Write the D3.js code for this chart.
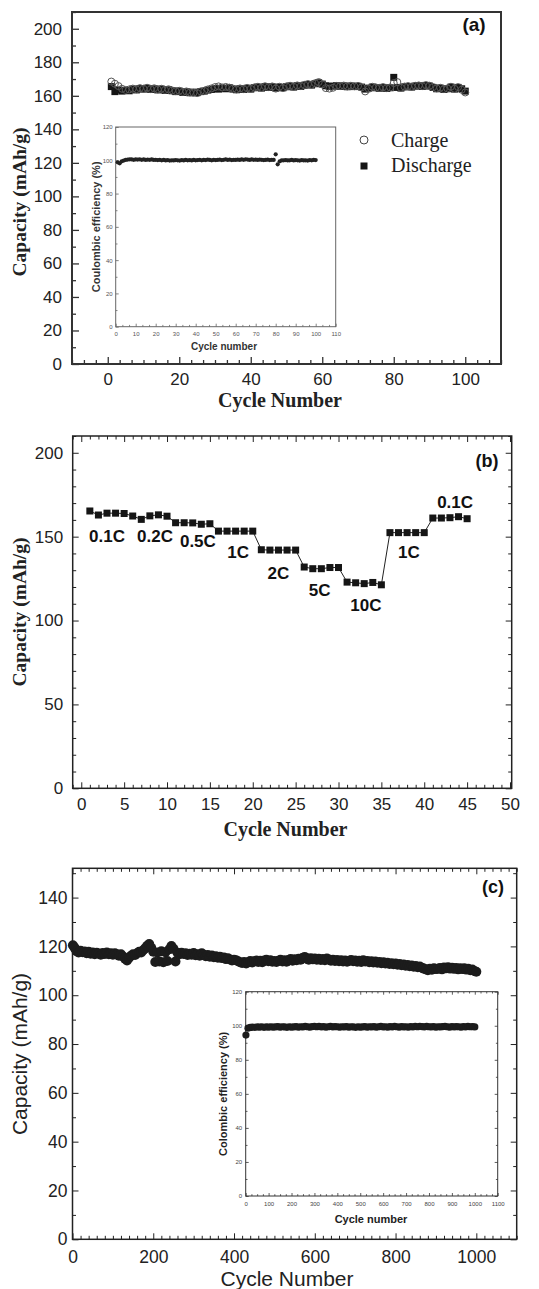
<!DOCTYPE html>
<html><head><meta charset="utf-8">
<script src="https://cdn.jsdelivr.net/npm/d3@7"></script>
<style>body{margin:0;background:#fff}svg{display:block}</style>
</head><body>
<svg id="chart" width="539" height="1289"></svg>
<script>
// ---------------- DATA ----------------
// Panel (a): capacity vs cycle (1..100)
const aCharge = [
 168.5,167.2,165.8,164.2,163.5,163.8,164.3,163.9,164.6,164.2,
 164.8,164.0,164.5,163.8,164.2,163.5,163.9,163.2,162.8,163.0,
 162.3,162.6,162.0,161.8,161.6,162.6,163.0,163.8,164.4,165.2,
 165.6,165.0,165.3,164.9,164.3,163.8,164.4,164.0,164.7,164.2,
 165.0,165.4,164.8,165.7,165.2,165.6,164.3,165.4,164.6,165.6,
 166.0,165.4,166.2,165.8,166.5,167.0,166.6,167.5,168.2,166.8,
 164.6,164.3,164.8,165.9,165.8,166.1,165.6,166.0,165.7,165.9,
 165.0,162.6,164.2,165.4,165.0,164.7,165.2,164.6,165.0,167.6,
 168.2,164.8,165.5,165.8,165.4,166.0,166.2,165.8,166.4,166.0,
 165.2,164.4,164.8,164.0,164.4,165.4,164.2,165.2,163.6,162.0];
const aDischarge = [
 165.5,162.5,163.5,162.8,163.2,163.0,164.0,163.5,164.3,164.0,
 164.5,163.8,164.2,163.5,164.0,163.2,163.6,163.0,162.5,162.8,
 162.0,162.4,161.8,162.2,161.9,162.5,162.8,163.4,163.8,164.3,
 164.0,164.6,164.2,164.8,164.0,163.6,164.2,163.8,164.5,164.0,
 164.8,165.2,164.6,165.5,165.0,165.4,164.6,165.2,164.8,165.4,
 165.8,165.2,166.0,165.6,166.3,166.8,166.4,167.2,167.8,167.0,
 166.0,165.6,165.8,166.0,165.6,165.9,165.4,165.8,165.5,165.7,
 165.2,164.0,164.6,165.2,164.8,164.5,165.0,164.4,164.8,171.0,
 165.0,164.6,165.3,165.6,165.2,165.8,166.0,165.6,166.2,165.8,
 165.0,164.2,164.6,163.8,164.2,165.2,164.0,165.0,164.2,162.8];
// Panel (a) inset: coulombic efficiency (%) cycles 1..100
const aEfficiency = [
 98.8,98.2,99.4,99.8,100.2,100.4,100.6,100.5,100.3,100.5,
 100.4,100.6,100.3,100.5,100.2,100.4,100.3,100.5,100.2,100.3,
 100.1,100.3,100.0,100.2,99.9,100.1,99.8,100.0,99.9,100.1,
 100.0,99.8,100.1,99.9,100.2,100.0,100.1,99.9,100.2,100.0,
 100.1,100.3,100.0,100.2,100.1,100.4,100.2,100.0,100.3,100.1,
 100.2,100.4,100.1,100.3,100.6,100.2,100.4,100.1,100.3,100.2,
 100.4,100.2,100.5,100.3,100.6,100.4,100.2,100.5,100.3,100.4,
 100.2,100.4,100.3,100.1,100.2,100.4,100.1,100.3,100.2,103.6,
 97.6,99.4,99.9,100.0,100.1,99.9,100.0,100.2,99.9,100.1,
 100.0,99.8,100.1,99.9,100.0,99.8,100.1,100.0,100.2,100.1];
const aCycles = aDischarge.map((d, i) => i + 1);

// Panel (b): rate capability, cycles 1..45
const bCapacity = [
 165.3,162.9,164.0,164.0,163.8,
 162.3,160.3,162.4,163.0,162.2,
 158.3,158.3,158.2,157.4,157.7,
 153.3,153.3,153.3,153.3,153.3,
 142.2,142.0,142.0,142.0,142.0,
 131.9,130.9,130.9,131.6,131.6,
 122.9,122.5,122.0,122.7,121.3,
 152.4,152.4,152.4,152.4,152.4,
 161.1,161.1,161.3,161.9,160.7];
const bCycles = bCapacity.map((d, i) => i + 1);
const bRateLabels = ["0.1C","0.2C","0.5C","1C","2C","5C","10C","1C","0.1C"];
// annotation anchors in data units (cycle, capacity)
const bRateLabelCycle = [3.0, 8.6, 13.6, 18.3, 23.0, 27.8, 33.2, 38.2, 43.6];
const bRateLabelValue = [146.6, 146.6, 143.6, 137.0, 124.8, 114.8, 105.8, 137.0, 167.2];

// Panel (c): long cycling, cycle 1 then every 5 cycles up to 1000
const cCapacity = [120.5,
 119.5,118.0,117.5,118.2,117.6,117.9,117.2,117.8,117.0,117.5,116.8,117.4,117.1,116.6,117.3,116.9,117.5,116.8,117.2,116.6,
 117.2,116.8,116.2,116.8,115.9,115.0,114.2,115.4,116.2,116.8,116.5,117.2,117.8,117.5,118.4,119.2,120.3,121.0,119.4,117.8,
 113.6,117.5,113.8,118.0,113.5,117.6,114.0,118.8,120.2,119.0,113.8,117.4,116.8,117.4,116.9,117.2,116.5,117.0,116.6,117.3,
 116.4,116.8,116.2,117.2,116.6,116.0,116.5,115.8,116.3,115.6,116.0,115.4,115.8,115.2,115.5,114.8,115.1,114.6,114.2,114.5,
 114.3,113.9,113.5,113.2,113.6,113.0,113.5,114.0,113.4,113.9,114.2,113.6,114.1,113.5,114.2,114.5,113.9,114.3,113.7,114.0,
 113.6,114.1,114.5,113.8,114.3,113.7,114.4,114.8,114.1,114.7,114.3,114.9,114.5,115.3,115.7,115.0,114.5,115.1,114.7,115.0,
 114.5,114.9,114.4,114.8,114.3,115.0,114.6,114.1,114.5,114.0,114.4,113.9,114.3,113.8,114.2,113.7,114.1,114.4,113.9,114.2,
 113.7,114.1,113.6,114.3,113.8,114.0,113.5,113.9,113.4,113.8,113.3,113.6,113.1,113.5,113.0,113.3,112.8,113.1,112.7,113.0,
 112.5,112.8,112.3,112.6,112.1,112.4,111.9,112.2,111.7,112.0,111.5,111.8,111.3,110.9,110.6,110.2,110.8,110.4,111.0,110.7,
 110.8,111.2,110.6,111.4,111.0,111.5,110.9,111.3,110.8,111.2,110.6,111.0,110.7,111.1,110.5,110.8,110.2,110.5,109.9,109.6];
const cCycles = cCapacity.map((d, i) => i === 0 ? 1 : i * 5);
// Panel (c) inset: coulombic efficiency, cycle 1 then every 10 cycles
const cEfficiency = [94.5,
 98.6,99.0,99.2,99.1,99.3,99.2,99.4,99.1,99.3,99.2,
 99.4,99.2,99.3,99.5,99.2,99.4,99.3,99.1,99.4,99.2,
 99.3,99.5,99.2,99.4,99.3,99.6,99.4,99.2,99.5,99.7,
 99.4,99.6,99.3,99.5,99.2,99.4,99.6,99.3,99.5,99.4,
 99.2,99.4,99.3,99.5,99.2,99.4,99.3,99.1,99.4,99.2,
 99.3,99.5,99.2,99.4,99.3,99.5,99.2,99.4,99.6,99.3,
 99.4,99.2,99.5,99.3,99.6,99.4,99.2,99.5,99.3,99.4,
 99.2,99.5,99.3,99.6,99.4,99.7,99.5,99.3,99.6,99.4,
 99.3,99.5,99.2,99.4,99.3,99.5,99.6,99.4,99.2,99.5,
 99.3,99.5,99.4,99.2,99.5,99.3,99.6,99.4,99.5,99.3];
const cEffCycles = cEfficiency.map((d, i) => i === 0 ? 1 : i * 10);

// tick labels
const aXTicks = [0,20,40,60,80,100];
const aYTicks = [0,20,40,60,80,100,120,140,160,180,200];
const aInsetXTicks = [0,10,20,30,40,50,60,70,80,90,100,110];
const aInsetYTicks = [0,20,40,60,80,100,120];
const bXTicks = [0,5,10,15,20,25,30,35,40,45,50];
const bYTicks = [0,50,100,150,200];
const cXTicks = [0,200,400,600,800,1000];
const cYTicks = [0,20,40,60,80,100,120,140];
const cInsetXTicks = [0,100,200,300,400,500,600,700,800,900,1000,1100];
const cInsetYTicks = [0,20,40,60,80,100,120];

// ---------------- HELPERS ----------------
const svg = d3.select('#chart');
const SANS = 'Liberation Sans, Arial, Helvetica, sans-serif';
const SERIF = 'Liberation Serif, Times New Roman, serif';
const fmt = d3.format('d');

function minors(lo, hi, step, majors) {
  const out = [];
  const n0 = Math.ceil(lo / step - 1e-9), n1 = Math.floor(hi / step + 1e-9);
  for (let i = n0; i <= n1; i++) {
    const v = i * step;
    if (!majors.some(m => Math.abs(m - v) < 1e-6)) out.push(v);
  }
  return out;
}

function axes(g, x, y, o) {
  const [x0, x1] = x.range(), [y0, y1] = y.range();
  const mk = (fn, scale, vals, len, lab, pad, tr) => {
    const a = fn(scale).tickValues(vals).tickSizeInner(-len).tickSizeOuter(0).tickPadding(pad);
    a.tickFormat(lab ? fmt : () => '');
    const s = g.append('g').attr('transform', tr).call(a);
    s.select('.domain').remove();
    s.selectAll('line').attr('stroke', o.color).attr('stroke-width', o.tw);
    s.selectAll('text').attr('font-family', SANS).attr('font-size', o.fs).attr('fill', o.textColor);
    return s;
  };
  const xm = minors(x.domain()[0], x.domain()[1], o.xStep, o.xMajor);
  const ym = minors(y.domain()[0], y.domain()[1], o.yStep, o.yMajor);
  mk(d3.axisBottom, x, o.xMajor, o.maj, true, o.xPad, `translate(0,${y0})`);
  mk(d3.axisBottom, x, xm, o.min, false, 0, `translate(0,${y0})`);
  mk(d3.axisLeft, y, o.yMajor, o.maj, true, o.yPad, `translate(${x0},0)`);
  mk(d3.axisLeft, y, ym, o.min, false, 0, `translate(${x0},0)`);
  if (o.mirror) {
    mk(d3.axisTop, x, o.xMajor, o.maj, false, 0, `translate(0,${y1})`);
    mk(d3.axisTop, x, xm, o.min, false, 0, `translate(0,${y1})`);
    mk(d3.axisRight, y, o.yMajor, o.maj, false, 0, `translate(${x1},0)`);
    mk(d3.axisRight, y, ym, o.min, false, 0, `translate(${x1},0)`);
  }
  g.append('rect').attr('x', x0).attr('y', y1).attr('width', x1 - x0).attr('height', y0 - y1)
    .attr('fill', 'none').attr('stroke', o.frameColor || o.color).attr('stroke-width', o.frame);
}

// ---------------- PANEL (a) ----------------
{
  const g = svg.append('g');
  const x = d3.scaleLinear([-10, 110], [72, 501]);
  const y = d3.scaleLinear([0, 210], [364, 12]);
  axes(g, x, y, {xMajor: aXTicks, yMajor: aYTicks, xStep: 20 / 6, yStep: 10, maj: 7, min: 4,
    fs: 17, xPad: 9, yPad: 10, color: '#333', textColor: '#222', tw: 1.3, frame: 2, mirror: false});

  // inset
  const ix = d3.scaleLinear([0, 110], [115.7, 335.7]);
  const iy = d3.scaleLinear([0, 120], [326.7, 127]);
  axes(g, ix, iy, {xMajor: aInsetXTicks, yMajor: aInsetYTicks, xStep: 10 / 3, yStep: 10, maj: 3, min: 1.8,
    fs: 6, xPad: 5, yPad: 3, color: '#666', textColor: '#555', tw: 0.8, frame: 1, mirror: false});
  g.append('g').selectAll('circle').data(aEfficiency).join('circle')
    .attr('cx', (d, i) => ix(aCycles[i])).attr('cy', d => iy(d)).attr('r', 2.1).attr('fill', '#222');
  g.append('text').attr('transform', `translate(100,${(127 + 326.7) / 2}) rotate(-90)`)
    .attr('text-anchor', 'middle').attr('font-family', SANS).attr('font-weight', 'bold')
    .attr('font-size', 11).attr('fill', '#333').text('Coulombic efficiency (%)');
  g.append('text').attr('x', 224).attr('y', 350).attr('text-anchor', 'middle')
    .attr('font-family', SANS).attr('font-weight', 'bold').attr('font-size', 10)
    .attr('fill', '#333').text('Cycle number');

  // main data
  g.append('g').selectAll('rect').data(aDischarge).join('rect')
    .attr('x', (d, i) => x(aCycles[i]) - 3.5).attr('y', d => y(d) - 3.5)
    .attr('width', 7).attr('height', 7).attr('fill', '#151515');
  g.append('g').selectAll('circle').data(aCharge).join('circle')
    .attr('cx', (d, i) => x(aCycles[i])).attr('cy', d => y(d)).attr('r', 3.5)
    .attr('fill', 'none').attr('stroke', '#555').attr('stroke-width', 1);

  // legend
  g.append('circle').attr('cx', 364).attr('cy', 140).attr('r', 4).attr('fill', 'none')
    .attr('stroke', '#444').attr('stroke-width', 1);
  g.append('text').attr('x', 391).attr('y', 147).attr('font-family', SERIF).attr('font-size', 20)
    .attr('fill', '#222').text('Charge');
  g.append('rect').attr('x', 360.5).attr('y', 162.5).attr('width', 7).attr('height', 7).attr('fill', '#151515');
  g.append('text').attr('x', 391).attr('y', 172).attr('font-family', SERIF).attr('font-size', 20)
    .attr('fill', '#222').text('Discharge');

  // titles
  g.append('text').attr('x', 474).attr('y', 31).attr('text-anchor', 'middle').attr('font-family', SANS)
    .attr('font-weight', 'bold').attr('font-size', 19).attr('fill', '#111').text('(a)');
  g.append('text').attr('x', 280).attr('y', 407).attr('text-anchor', 'middle').attr('font-family', SERIF)
    .attr('font-weight', 'bold').attr('font-size', 20).attr('fill', '#222').text('Cycle Number');
  g.append('text').attr('transform', `translate(26,202) rotate(-90)`).attr('text-anchor', 'middle')
    .attr('font-family', SERIF).attr('font-weight', 'bold').attr('font-size', 19.5).attr('fill', '#222')
    .text('Capacity (mAh/g)');
}

// ---------------- PANEL (b) ----------------
{
  const g = svg.append('g');
  const x = d3.scaleLinear([-1, 50.2], [72.7, 511.7]);
  const y = d3.scaleLinear([0, 210], [788.3, 436]);
  axes(g, x, y, {xMajor: bXTicks, yMajor: bYTicks, xStep: 1, yStep: 10, maj: 6, min: 3.5,
    fs: 17, xPad: 10, yPad: 9.5, color: '#222', textColor: '#222', tw: 1, frame: 1.5, mirror: true});

  const line = d3.line().x((d, i) => x(bCycles[i])).y(d => y(d));
  g.append('path').datum(bCapacity).attr('d', line).attr('fill', 'none')
    .attr('stroke', '#222').attr('stroke-width', 1);
  g.append('g').selectAll('rect').data(bCapacity).join('rect')
    .attr('x', (d, i) => x(bCycles[i]) - 3.5).attr('y', d => y(d) - 3.5)
    .attr('width', 7).attr('height', 7).attr('fill', '#151515');

  g.append('g').selectAll('text').data(bRateLabels).join('text')
    .attr('x', (d, i) => x(bRateLabelCycle[i])).attr('y', (d, i) => y(bRateLabelValue[i]))
    .attr('text-anchor', 'middle').attr('font-family', SANS).attr('font-weight', 'bold')
    .attr('font-size', 17).attr('fill', '#111').text(d => d);

  g.append('text').attr('x', 487).attr('y', 467).attr('text-anchor', 'middle').attr('font-family', SANS)
    .attr('font-weight', 'bold').attr('font-size', 18).attr('fill', '#111').text('(b)');
  g.append('text').attr('x', 285.5).attr('y', 836).attr('text-anchor', 'middle').attr('font-family', SERIF)
    .attr('font-weight', 'bold').attr('font-size', 20).attr('fill', '#222').text('Cycle Number');
  g.append('text').attr('transform', `translate(26,612) rotate(-90)`).attr('text-anchor', 'middle')
    .attr('font-family', SERIF).attr('font-weight', 'bold').attr('font-size', 19.5).attr('fill', '#222')
    .text('Capacity (mAh/g)');
}

// ---------------- PANEL (c) ----------------
{
  const g = svg.append('g');
  const x = d3.scaleLinear([0, 1100], [72.5, 516.7]);
  const y = d3.scaleLinear([0, 152], [1239.3, 868.3]);
  axes(g, x, y, {xMajor: cXTicks, yMajor: cYTicks, xStep: 20, yStep: 10, maj: 6, min: 3.5,
    fs: 17.5, xPad: 11, yPad: 5, color: '#222', textColor: '#222', tw: 1, frame: 1.5, mirror: true});

  g.append('g').selectAll('circle').data(cCapacity).join('circle')
    .attr('cx', (d, i) => x(cCycles[i])).attr('cy', d => y(d)).attr('r', 5).attr('fill', '#1c1c1c');

  // inset
  const ix = d3.scaleLinear([0, 1100], [245.7, 497.7]);
  const iy = d3.scaleLinear([0, 120], [1196, 991.7]);
  g.append('rect').attr('x', 245.7).attr('y', 991.7).attr('width', 252).attr('height', 204.3).attr('fill', '#fff');
  axes(g, ix, iy, {xMajor: cInsetXTicks, yMajor: cInsetYTicks, xStep: 25, yStep: 10, maj: 3, min: 1.8,
    fs: 6, xPad: 5.5, yPad: 3.5, color: '#333', textColor: '#444', tw: 0.8, frame: 1, mirror: true});
  g.append('g').selectAll('circle').data(cEfficiency).join('circle')
    .attr('cx', (d, i) => ix(cEffCycles[i])).attr('cy', d => iy(d)).attr('r', 3.6).attr('fill', '#1c1c1c');
  g.append('text').attr('transform', `translate(227,${(991.7 + 1196) / 2}) rotate(-90)`)
    .attr('text-anchor', 'middle').attr('font-family', SANS).attr('font-weight', 'bold')
    .attr('font-size', 11).attr('fill', '#222').text('Colombic efficiency (%)');
  g.append('text').attr('x', 371).attr('y', 1223).attr('text-anchor', 'middle')
    .attr('font-family', SANS).attr('font-weight', 'bold').attr('font-size', 11)
    .attr('fill', '#222').text('Cycle number');

  g.append('text').attr('x', 493).attr('y', 893).attr('text-anchor', 'middle').attr('font-family', SANS)
    .attr('font-weight', 'bold').attr('font-size', 18).attr('fill', '#111').text('(c)');
  g.append('text').attr('x', 287).attr('y', 1286).attr('text-anchor', 'middle').attr('font-family', SANS)
    .attr('font-size', 21).attr('fill', '#222').text('Cycle Number');
  g.append('text').attr('transform', `translate(27,1054) rotate(-90)`).attr('text-anchor', 'middle')
    .attr('font-family', SANS).attr('font-size', 21).attr('fill', '#222').text('Capacity (mAh/g)');
}
</script>
</body></html>
